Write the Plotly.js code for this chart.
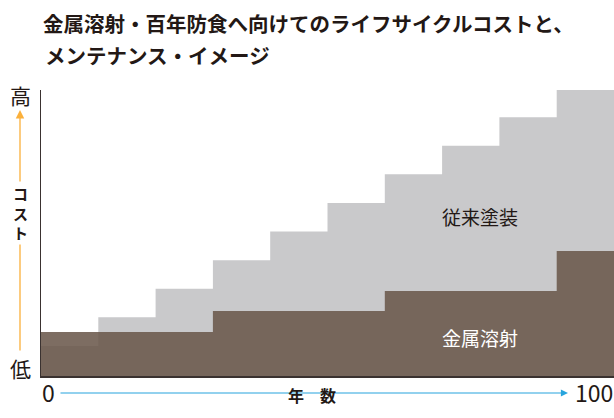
<!DOCTYPE html>
<html>
<head>
<meta charset="utf-8">
<script src="https://cdn.plot.ly/plotly-3.0.1.min.js"></script>
<style>html,body{margin:0;padding:0;background:#fff;}#chart{width:614px;height:418px;}</style>
</head>
<body>
<div id="chart"></div>
<script>
// Years (step boundaries)
const years = [0, 10, 20, 30, 40, 50, 60, 70, 80, 90, 100];
// Conventional painting cumulative cost (relative units)
const conventionalCost = [1.05, 2.05, 3.05, 4.05, 5.05, 6.05, 7.05, 8.05, 9.05, 10, 10];
// Metal spraying cumulative cost (relative units)
const sprayCost = [1.54, 1.54, 1.54, 2.27, 2.27, 2.27, 2.97, 2.97, 2.97, 4.37, 4.37];
const seriesNames = ['従来塗装', '金属溶射'];
const titleLines = ['金属溶射・百年防食へ向けてのライフサイクルコストと、', 'メンテナンス・イメージ'];
const xAxisLabel = '年　数';
const yAxisLabel = 'コスト';
const yHigh = '高', yLow = '低';
const xStart = '0', xEnd = '100';

const JP = '"Noto Sans CJK JP", "Noto Sans", sans-serif';
const textColor = '#231815';
const titleFont = {family: JP, size: 20.5, color: textColor, weight: 'bold'};

const traces = [
  {
    x: years, y: conventionalCost, type: 'scatter', mode: 'lines',
    line: {shape: 'hv', width: 0, color: '#c9c9cb'},
    fill: 'tozeroy', fillcolor: '#c9c9cb', name: seriesNames[0], hoverinfo: 'skip'
  },
  {
    x: years, y: sprayCost, type: 'scatter', mode: 'lines',
    line: {shape: 'hv', width: 0, color: 'rgba(106,87,75,0.87)'},
    fill: 'tozeroy', fillcolor: 'rgba(106,87,75,0.87)', name: seriesNames[1], hoverinfo: 'skip'
  }
];

const layout = {
  width: 614, height: 418,
  margin: {l: 41, r: 0, t: 90, b: 42},
  paper_bgcolor: '#fff', plot_bgcolor: '#fff',
  showlegend: false,
  title: {
    text: titleLines[0],
    font: titleFont,
    x: 43 / 614, xanchor: 'left', xref: 'container',
    y: 1 - 25 / 418, yanchor: 'middle', yref: 'container'
  },
  xaxis: {
    range: [0, 100], showgrid: false, zeroline: false, showticklabels: false, ticks: '',
    showline: true, linecolor: '#3a3230', linewidth: 1.5, fixedrange: true
  },
  yaxis: {
    range: [0, 10], showgrid: false, zeroline: false, showticklabels: false, ticks: '',
    showline: true, linecolor: '#3a3230', linewidth: 1.5, fixedrange: true
  },
  annotations: [
    // title second line
    {x: 2 / 573, y: (376 - 55) / 286, xref: 'paper', yref: 'paper', text: titleLines[1],
     showarrow: false, xanchor: 'left', yanchor: 'middle', font: titleFont},
    // series labels
    {x: 76.6, y: 5.56, xref: 'x', yref: 'y', text: seriesNames[0], showarrow: false,
     xanchor: 'center', yanchor: 'middle',
     font: {family: JP, size: 19, color: textColor}},
    {x: 76.6, y: 1.33, xref: 'x', yref: 'y', text: seriesNames[1], showarrow: false,
     xanchor: 'center', yanchor: 'middle',
     font: {family: JP, size: 19, color: '#ffffff'}},
    // x axis arrow
    {x: (568 - 41) / 573, y: -17 / 286, xref: 'paper', yref: 'paper', text: '',
     showarrow: true, ax: -509, ay: 0, arrowhead: 2, arrowsize: 1.3, arrowwidth: 1.1,
     arrowcolor: '#27a4dd'},
    // x axis title
    {x: (312 - 41) / 573, y: -19 / 286, xref: 'paper', yref: 'paper', text: xAxisLabel,
     showarrow: false, xanchor: 'center', yanchor: 'middle',
     font: {family: JP, size: 16, color: textColor, weight: 'bold'}},
    // 0 and 100
    {x: 0, y: -16 / 286, xref: 'x', yref: 'paper', text: xStart, showarrow: false,
     xanchor: 'left', yanchor: 'middle', xshift: -1,
     font: {family: JP, size: 23, color: textColor}},
    {x: 100, y: -16 / 286, xref: 'x', yref: 'paper', text: xEnd, showarrow: false,
     xanchor: 'right', yanchor: 'middle', xshift: 1,
     font: {family: JP, size: 23, color: textColor}},
    // y axis arrow
    {x: 0, y: (376 - 110) / 286, xref: 'paper', yref: 'paper', xshift: -21, text: '',
     showarrow: true, ax: 0, ay: 242, arrowhead: 2, arrowsize: 1.3, arrowwidth: 1.3,
     arrowcolor: '#fbb03b'},
    // y axis title vertical
    {x: 0, y: (376 - 213) / 286, xref: 'paper', yref: 'paper', xshift: -21,
     xanchor: 'center', yanchor: 'middle',
     text: yAxisLabel.split('').join('<br>'), showarrow: false, bgcolor: '#ffffff',
     font: {family: JP, size: 15, color: textColor, weight: 'bold'}},
    // high / low
    {x: 0, y: (376 - 95) / 286, xref: 'paper', yref: 'paper', xshift: -21, text: yHigh,
     xanchor: 'center', yanchor: 'middle',
     showarrow: false, font: {family: JP, size: 21, color: textColor}},
    {x: 0, y: (376 - 368) / 286, xref: 'paper', yref: 'paper', xshift: -21, text: yLow,
     xanchor: 'center', yanchor: 'middle',
     showarrow: false, font: {family: JP, size: 21, color: textColor}}
  ]
};

Plotly.newPlot('chart', traces, layout, {displayModeBar: false, staticPlot: true});
</script>
</body>
</html>
